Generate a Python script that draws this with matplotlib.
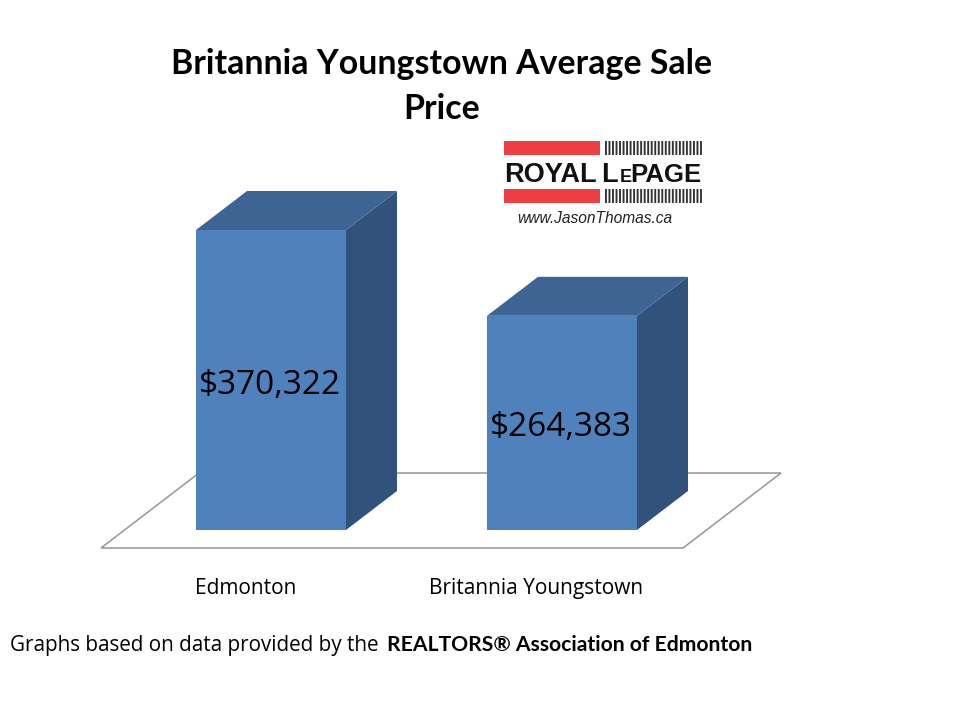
#!/usr/bin/env python3
import matplotlib
matplotlib.use('Agg')
import matplotlib.pyplot as plt
from matplotlib.patches import Polygon, Rectangle

categories = ['Edmonton', 'Britannia Youngstown']
prices = [370322, 264383]
price_labels = ['$370,322', '$264,383']

W, H = 960, 720

def fx(px):
    return px / W

def fy(py):
    return 1 - py / H

fig = plt.figure(figsize=(9.6, 7.2), dpi=100, facecolor='white')
ax = fig.add_axes([0, 0, 1, 1])
ax.axis('off')

# axes limits chosen so that the base is at y=530px and 300px is the Edmonton bar
per_px = prices[0] / 300.0
ax.set_ylim(-190 * per_px, 530 * per_px)
ax.set_xlim(-271 / 291.0, (960 - 271) / 291.0)

bar_w = 150 / 291.0
dx = 51 / 291.0
dy = 39 * per_px
xs = list(range(len(categories)))

# floor
floor_front = -18 * per_px
floor_back = 57 * per_px
floor_l = xs[0] - 170 / 291.0
floor_r = xs[1] + 121 / 291.0
floor_shift = 98 / 291.0
ax.add_patch(Polygon([(floor_l, floor_front), (floor_r, floor_front),
                      (floor_r + floor_shift, floor_back), (floor_l + floor_shift, floor_back)],
                     closed=True, fc='white', ec='#969696', lw=1.1, zorder=1))

for x, p, lab in zip(xs, prices, price_labels):
    l = x - bar_w / 2
    r = x + bar_w / 2
    ax.add_patch(Polygon([(r, 0), (r + dx, dy), (r + dx, p + dy), (r, p)], closed=True,
                         fc='#31527B', ec='none', zorder=2))
    ax.add_patch(Polygon([(l, p), (r, p), (r + dx, p + dy), (l + dx, p + dy)], closed=True,
                         fc='#3D6492', ec='none', zorder=2))
    ax.bar(x, p, width=bar_w, bottom=0, color='#4F81BD', zorder=3)
    ax.text(x - 1.5 / 291.0, p / 2 - 5 * per_px, lab, ha='center', va='center', fontsize=24,
            family='Open Sans', color='black', zorder=4)
    ax.text(x - 25.5 / 291.0, -58.5 * per_px, categories[x], ha='center', va='center',
            fontsize=15, family='Open Sans', color='black', zorder=4)

# title
fig.text(fx(442), fy(64), 'Britannia Youngstown Average Sale', ha='center', va='center',
         fontsize=24.4, fontweight='bold', family='Lato', color='black')
fig.text(fx(442), fy(109), 'Price', ha='center', va='center',
         fontsize=24.4, fontweight='bold', family='Lato', color='black')

# footer
fig.text(fx(10), fy(645), 'Graphs based on data provided by the', ha='left', va='center',
         fontsize=14.9, family='Open Sans', color='black')
fig.text(fx(387), fy(645), 'REALTORS® Association of Edmonton', ha='left', va='center',
         fontsize=15.2, fontweight='bold', family='Lato', color='black')

# logo
for top in [141, 189]:
    fig.patches.append(Rectangle((fx(504), fy(top + 14)), 96 / W, 14 / H,
                                 transform=fig.transFigure, fc='#EF3E42', ec='none'))
    for i in range(28):
        lx = 605 + i * 3.52
        fig.patches.append(Rectangle((fx(lx), fy(top + 14)), 1.9 / W, 14 / H,
                                     transform=fig.transFigure, fc='#333333', ec='none',
                                     snap=False))
fig.text(fx(504), fy(181.5), 'ROYAL', ha='left', va='baseline', fontsize=19.5,
         fontweight='bold', family='Liberation Sans', color='#111111')
fig.text(fx(601), fy(181.5), 'L', ha='left', va='baseline', fontsize=19.5,
         fontweight='bold', family='Liberation Sans', color='#111111')
fig.text(fx(620), fy(181.5), 'E', ha='left', va='baseline', fontsize=13,
         fontweight='bold', family='Liberation Sans', color='#111111')
fig.text(fx(702), fy(181.5), 'PAGE', ha='right', va='baseline', fontsize=18.5,
         fontweight='bold', family='Liberation Sans', color='#111111')
fig.text(fx(517), fy(218.5), 'www.JasonThomas.ca', ha='left', va='center', fontsize=11.2,
         style='italic', family='Liberation Sans', color='#222222')

fig.savefig('out.png', dpi=100)
